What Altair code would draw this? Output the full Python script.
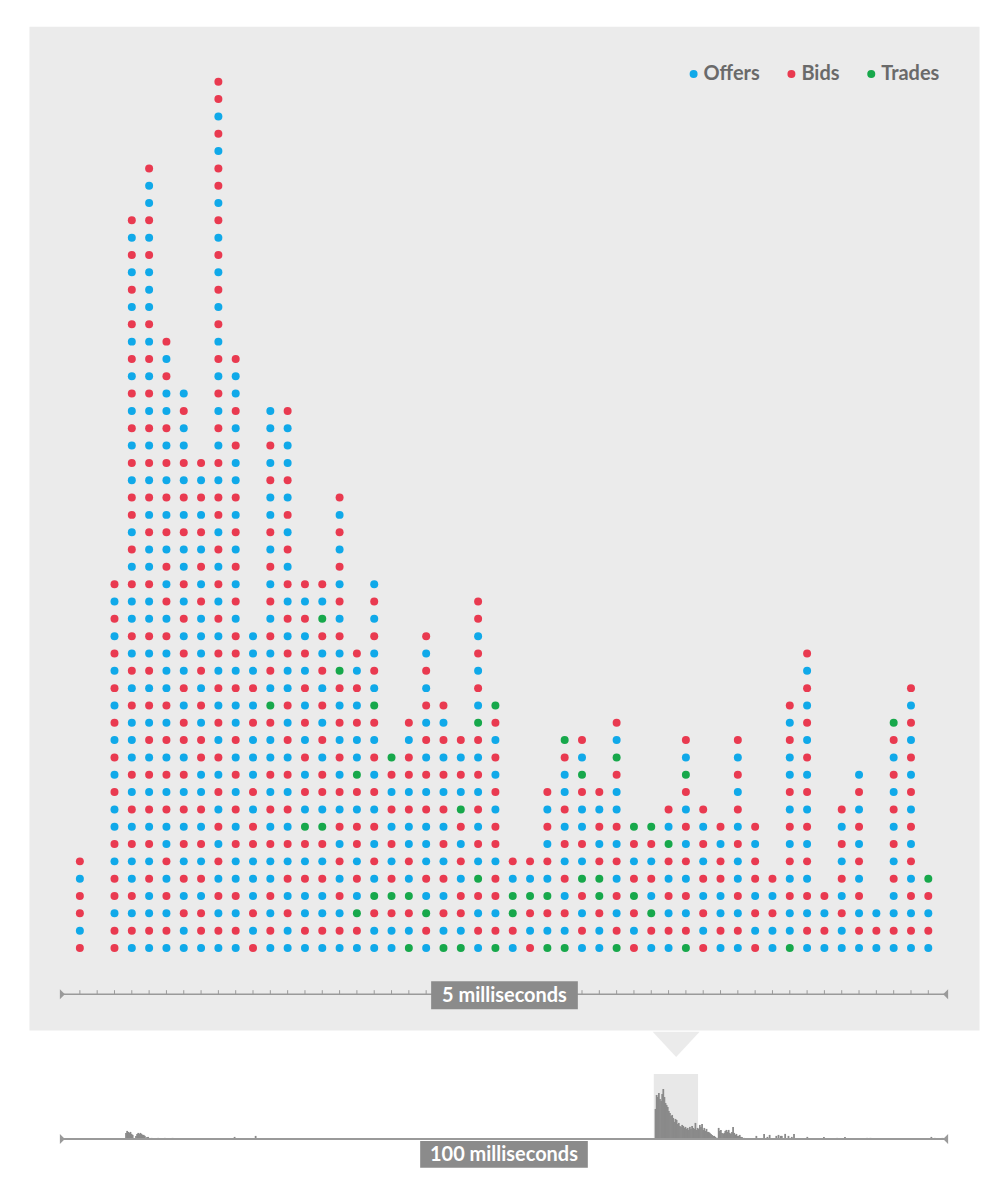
import altair as alt
import pandas as pd

# ---------------- data ----------------
categories = ["Offers", "Bids", "Trades"]
palette = ["#10a9e9", "#e93a50", "#17a84b"]
code_map = {"B": "Offers", "R": "Bids", "G": "Trades"}

# one string per time bin (5 ms window), messages stacked bottom -> top
# B = offer, R = bid, G = trade
stacks = [
    "RBRRBR",
    "",
    "RRBRRBRBBRBRBRBRBR" + "BRBR",
    "BRBRBBRBRBRBBBRBRB" + "RBBRBRBRRBRBRBRBR" + "BRBRBRBR",
    "BRBBRBRBRBRBRBRBRB" + "RBBRBBRBRBRBRBRBR" + "BRBBBRBRBBR",
    "BRBRBRBBRBRBRBRBBB" + "RBRBRBRBRBRBRBBRB" + "R",
    "BBRBRBRBRBRBRRBRBR" + "BRBRBBRBRBRBBRB",
    "BRRBRBRBRBBRRBRBRB" + "BBRBRBRBRBR",
    "BRBRBRBRBRBRBRBRBR" + "BRBRBRBRRBRBRBRBR" + "BRBRBRBRBRRBRBRR",
    "BRBRBBRBRBRBRBBRBR" + "RBRBRBRBRBBRBRBBR",
    "RBRBBBRRBRBBBRBRBBB",
    "BRBRBBRBRBRBBRGBRB" + "RBRBRBRBBRBRBB",
    "BBRBRBRBRBRBRBRBBR" + "BRBRBRBRBRBBBR",
    "BRBBRBRGBRBRBRBRBR" + "BRBR",
    "BRBBRBRGBRRBRBRBRB" + "RGBR",
    "BRBRBRBRBRBRBRBRGB" + "RBRBRBRBR",
    "BRGBRBRRBRGBBRBRBR",
    "BBRGBRBRBRBRBRGBRB" + "RBRB",
    "BBRGRBRBRBRG",
    "GBRGBRBBRBRRBR",
    "BRGBRBBBRBRBRBRBRB" + "R",
    "GBRBRBRBRBRBRBR",
    "GBRRBRBRGBRBR",
    "BRBRGBRBRBRBRGBRBR" + "BRR",
    "GRBRRBRRBRBRBRG",
    "BRGGBR",
    "RBRGBR",
    "GBRGBRBRBR",
    "GBRBRBRBRBBRG",
    "BRBRGBRBBRGBR",
    "BBRGGRBRBR",
    "GRBRBRBRBBRGBR",
    "RBRGRBRG",
    "BRGBRBRG",
    "BRBRBRGBR",
    "GRBRBRBRBRGBR",
    "RBRBRBRBR",
    "BRBBRRBR",
    "BRBRBBRBRBRBR",
    "RBRBRRBR",
    "BBRBR",
    "GBBRBRBRBRBBRBR",
    "BRBRBRBRBRBRBRBRBR",
    "BRBR",
    "BBRBRBRBR",
    "BRBRBRBRBRB",
    "BRB",
    "BRBBRBRBRBRBRG",
    "BRBRBRBRBRBRBRBR",
    "BRBRG",
]

top_label = "5 milliseconds"
bottom_label = "100 milliseconds"

# overview strip (100 ms), heights in px-like units per 0.125 ms bin
mini_bin_ms = 0.125
window_start_ms = 66.9
window_len_ms = 5.0
spike_start_bin = 536
spike_heights = [30, 44, 42, 46, 40, 38, 45, 50, 42, 36,
                 34, 32, 28, 26, 23, 24, 21, 17, 20, 19,
                 15, 16, 13, 12, 14, 13, 11, 12, 10, 11,
                 9, 12, 10, 13, 11, 10, 16, 9, 11, 10,
                 14, 12, 15, 9, 11, 8, 10, 7, 7, 6,
                 5, 4, 3, 3, 2, 1, 1,
                 11, 8, 9, 6, 5, 6, 8, 9, 7, 9, 6, 5, 7, 12, 6, 4, 5, 3, 3, 4, 2, 2, 1, 1]
mini_bins = [58, 59, 60, 61, 62, 63, 64, 67, 68, 69, 70, 71, 72, 73, 74, 75, 77, 78, 81, 85, 87, 93, 100,
             156, 175, 627, 634, 637, 639, 645, 647, 649, 650, 653, 656, 659, 661, 673, 688, 700, 707,
             727, 730, 785, 788, 795]
mini_heights = [6, 8, 7, 6, 7, 5, 4, 3, 5, 6, 5, 6, 5, 4, 4, 3, 2, 2, 1, 1, 1, 1, 1,
                2, 3, 3, 5, 2, 4, 3, 4, 3, 3, 5, 3, 2, 5, 2, 2, 1, 2,
                1, 1, 2, 1, 1]

# ---------------- tables ----------------
dots_df = pd.DataFrame(
    [{"bin": i, "level": k, "kind": code_map[c]}
     for i, s in enumerate(stacks) for k, c in enumerate(s)]
)
ticks_df = pd.DataFrame({"bin": list(range(len(stacks)))})

bins_all = [spike_start_bin + j for j in range(len(spike_heights))] + mini_bins
h_all = spike_heights + mini_heights
mini_df = pd.DataFrame({"b": bins_all, "h": h_all})
mini_df["t0"] = mini_df["b"] * mini_bin_ms
mini_df["t1"] = mini_df["t0"] + mini_bin_ms * 1.6   # slight overlap so bins merge into an area
mini_df["base"] = 0
win_df = pd.DataFrame({"s": [window_start_ms], "e": [window_start_ms + window_len_ms]})
one = pd.DataFrame({"z": [0]})

GREY = "#9a9a9a"
BOX = "#8b8b8b"
FONT = "Lato"

W = 952
H_TOP = 1006
H_BOT = 145

xs = alt.X("bin:Q", scale=alt.Scale(domain=[-2.94, 51.93], nice=False, zero=False), axis=None)
ys = alt.Y("level:Q", scale=alt.Scale(domain=[-4.74, 53.21], nice=False, zero=False), axis=None)

dots = alt.Chart(dots_df).mark_circle(size=64, opacity=1).encode(
    x=xs, y=ys,
    color=alt.Color(
        "kind:N",
        scale=alt.Scale(domain=categories, range=palette),
        legend=alt.Legend(
            orient="none", legendX=656, legendY=38, direction="horizontal",
            title=None, symbolType="circle", symbolSize=64, symbolStrokeWidth=0,
            labelFont=FONT, labelFontSize=20, labelFontWeight="bold",
            labelColor="#6a6a6a", columnPadding=21, labelOffset=0, padding=0,
        ),
    ),
)

ticks = alt.Chart(ticks_df).mark_rule(color=GREY, strokeWidth=1).encode(
    x=xs, y=alt.value(966), y2=alt.value(970)
)
axis_line = alt.Chart(one).mark_rule(color=GREY, strokeWidth=1.5).encode(
    x=alt.value(32), x2=alt.value(920), y=alt.value(970)
)
cap_l = alt.Chart(one).mark_point(shape="M-0.5,-1L0.5,0L-0.5,1Z", size=100, filled=True,
                                  color=GREY, opacity=1, strokeWidth=0).encode(
    x=alt.value(33.5), y=alt.value(970))
cap_r = alt.Chart(one).mark_point(shape="M0.5,-1L-0.5,0L0.5,1Z", size=100, filled=True,
                                  color=GREY, opacity=1, strokeWidth=0).encode(
    x=alt.value(918.5), y=alt.value(970))
box_top = alt.Chart(one).mark_rect(color=BOX).encode(
    x=alt.value(403), x2=alt.value(550), y=alt.value(957), y2=alt.value(985)
)
txt_top = alt.Chart(pd.DataFrame({"label": [top_label]})).mark_text(
    font=FONT, fontSize=20, fontWeight="bold", color="white", align="center", baseline="middle"
).encode(x=alt.value(476.5), y=alt.value(972), text="label:N")

top = alt.layer(dots, ticks, axis_line, cap_l, cap_r, box_top, txt_top).properties(
    width=W, height=H_TOP, view=alt.ViewBackground(fill="#ebebeb", stroke="transparent")
)

# ---------------- overview strip ----------------
xm = alt.Scale(domain=[-3.604, 103.603], nice=False, zero=False)
ym = alt.Scale(domain=[-38, 107], nice=False, zero=False)

pointer = alt.Chart(one).mark_point(shape="M-1,-1.02L1,-1.02L0,0.06Z", size=2209, filled=True,
                                    color="#ebebeb", opacity=1, strokeWidth=0).encode(
    x=alt.value(648.5), y=alt.value(23.5))
highlight = alt.Chart(win_df).mark_rect(color="#e8e8e8").encode(
    x=alt.X("s:Q", scale=xm, axis=None), x2="e:Q", y=alt.value(42), y2=alt.value(107)
)
bars = alt.Chart(mini_df).mark_rect(color="#8a8a8a").encode(
    x=alt.X("t0:Q", scale=xm, axis=None), x2="t1:Q",
    y=alt.Y("h:Q", scale=ym, axis=None), y2="base:Q"
)
base_line = alt.Chart(one).mark_rule(color=GREY, strokeWidth=2).encode(
    x=alt.value(32), x2=alt.value(920), y=alt.value(107)
)
cap_l2 = alt.Chart(one).mark_point(shape="M-0.5,-1L0.5,0L-0.5,1Z", size=100, filled=True,
                                   color=GREY, opacity=1, strokeWidth=0).encode(
    x=alt.value(33.5), y=alt.value(107))
cap_r2 = alt.Chart(one).mark_point(shape="M0.5,-1L-0.5,0L0.5,1Z", size=100, filled=True,
                                   color=GREY, opacity=1, strokeWidth=0).encode(
    x=alt.value(918.5), y=alt.value(107))
box_bot = alt.Chart(one).mark_rect(color=BOX).encode(
    x=alt.value(392), x2=alt.value(560), y=alt.value(109), y2=alt.value(136)
)
txt_bot = alt.Chart(pd.DataFrame({"label": [bottom_label]})).mark_text(
    font=FONT, fontSize=20, fontWeight="bold", color="white", align="center", baseline="middle"
).encode(x=alt.value(476), y=alt.value(123.5), text="label:N")

bottom = alt.layer(pointer, highlight, bars, base_line, cap_l2, cap_r2, box_bot, txt_bot).properties(
    width=W, height=H_BOT, view=alt.ViewBackground(fill="white", stroke="transparent")
)

chart = alt.vconcat(top, bottom, spacing=0).resolve_scale(
    x="independent", y="independent", color="independent"
).properties(
    padding={"left": 20, "top": 16, "right": 17, "bottom": 0}, background="white"
).configure_view(stroke="transparent")

chart.save("out.html", embed_options={"renderer": "svg", "actions": False})
